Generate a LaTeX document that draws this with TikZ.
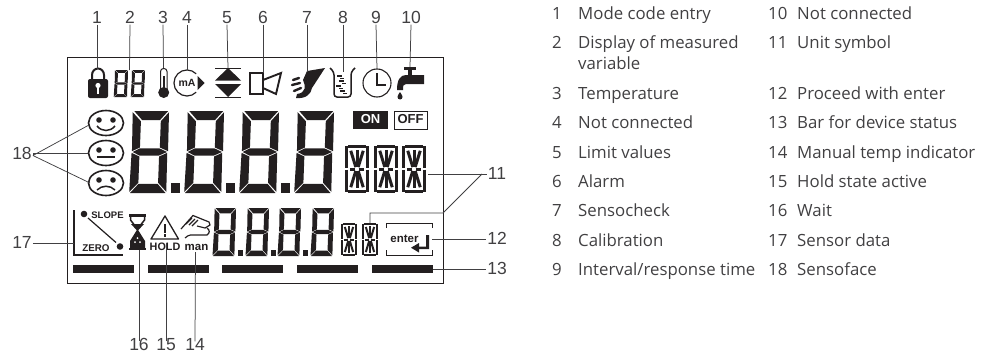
\documentclass[tikz,border=0pt]{standalone}
\usepackage{fontspec}
\setmainfont{Liberation Sans}
\newfontfamily\legendfont{Open Sans}
\usetikzlibrary{arrows}
\definecolor{myInk}{RGB}{35,31,32}
\definecolor{myText}{RGB}{65,64,66}
\tikzset{
	lcddigit/.pic={
		\fill[myInk] (.11,0) -- (.98,0) -- (.77,.11) -- (.31,.11) -- cycle;
		\fill[myInk] (.07,.015) -- (.28,.125) -- (.255,.445) -- (.05,.49) -- cycle;
		\fill[myInk] (1,.015) -- (.79,.125) -- (.765,.445) -- (.975,.49) -- cycle;
		\fill[myInk] (.07,.5) -- (.25,.457) -- (.76,.457) -- (.95,.5) -- (.74,.543) -- (.24,.543) -- cycle;
		\fill[myInk] (.04,.51) -- (.24,.555) -- (.215,.875) -- (-.02,.985) -- cycle;
		\fill[myInk] (.955,.51) -- (.745,.555) -- (.72,.875) -- (.93,.985) -- cycle;
		\fill[myInk] (0,1) -- (.215,.89) -- (.71,.89) -- (.91,1) -- cycle;
	},
	lcdalpha/.pic={
		\draw[myInk] (.13,.04) -- (.87,.04);
		\draw[myInk] (.13,.96) -- (.87,.96);
		\foreach \x in {.08,.92}{
			\draw[myInk] (\x,.03) -- (\x,.485);
			\draw[myInk] (\x,.515) -- (\x,.97);
		}
		\draw[myInk] (.5,.1) -- (.5,.45);
		\draw[myInk] (.5,.55) -- (.5,.9);
		\draw[myInk] (.2,.5) -- (.43,.5);
		\draw[myInk] (.57,.5) -- (.8,.5);
		\draw[myInk] (.24,.12) -- (.45,.46);
		\draw[myInk] (.76,.12) -- (.55,.46);
		\draw[myInk] (.24,.88) -- (.45,.54);
		\draw[myInk] (.76,.88) -- (.55,.54);
	},
	smiley/.pic={
		\draw[myInk,line width=1.6pt] (0,0) ellipse (17.5 and 12.5);
		\fill[myInk] (-7,-3) circle (2.8);
		\fill[myInk] (7,-3) circle (2.8);
	},
	leader/.style={draw=myText,line width=.75pt},
	callout/.style={font=\fontsize{17.5}{20}\selectfont,text=myText,inner sep=1pt,yshift=-2.5pt},
	legend/.style={font=\legendfont\fontsize{16.8}{20}\selectfont,text=myText,anchor=west,inner sep=0pt,yshift=-3pt},
	bar/.style={fill=myInk},
}
\begin{document}
\begin{tikzpicture}[x=1pt,y=-1pt,%
	every node/.style={
		% same baseline for all the texts
		text height=1.5ex,
		text depth=0pt,
	},
	]
	\useasboundingbox (0,0) rectangle (995,356);

	% draw display frame
	\draw[myInk,line width=.8pt] (67,57) rectangle (443,283);

	% big digits and their points
	\foreach \x in {130,185,240,295}{
		\pic[xscale=39,yscale=82] at (\x,111) {lcddigit};
	}
	\foreach \x in {175,230,285}{
		\fill[myInk] (\x-4.5,183) rectangle (\x+4.5,192.5);
	}

	% second row of digits
	\foreach \x in {213,246,278,311}{
		\pic[xscale=23,yscale=48] at (\x,208) {lcddigit};
	}
	\foreach \x in {240,273,305}{
		\fill[myInk] (\x-2.5,250) rectangle (\x+2.5,255.5);
	}

	% small digits beside the lock
	\foreach \x in {114,131}{
		\pic[xscale=14,yscale=27] at (\x,70) {lcddigit};
	}

	% unit symbols
	\foreach \x in {345,374,402}{
		\pic[xscale=24,yscale=48,line width=3pt] at (\x,145) {lcdalpha};
	}
	\foreach \x in {341,362}{
		\pic[xscale=16,yscale=33,line width=2pt] at (\x,223) {lcdalpha};
	}

	% lock
	\draw[myInk,line width=2pt] (92,80) -- (92,75) arc (180:360:6 and 6.5) -- (104,80);
	\fill[myInk,rounded corners=2pt] (88,79) rectangle (108,98);
	\fill[white] (98,85.5) circle (2.6);
	\fill[white] (97,86) rectangle (99,94);

	% thermometer
	\draw[myInk,line width=1pt,rounded corners=3pt] (160.5,90) -- (160.5,68.5) -- (167,68.5) -- (167,90);
	\fill[myInk] (163.7,92.5) circle (5.5);
	\fill[myInk] (162.5,76) rectangle (165,90);

	% current output
	\draw[myInk,line width=1.2pt] (196.2,73.8) arc (-45:-315:13);
	\fill[myInk] (197.5,76) -- (204.5,83) -- (197.5,90) -- cycle;
	\node[font=\bfseries\fontsize{10.5}{12}\selectfont,text=myInk,inner sep=0pt] (unitmA) at (187,83) {mA};

	% limit values
	\draw[myInk,line width=.9pt] (215,68) -- (241,68);
	\draw[myInk,line width=.9pt] (215,97) -- (241,97);
	\fill[myInk] (228,68) -- (241,80.5) -- (215,80.5) -- cycle;
	\fill[myInk] (228,97) -- (241,84) -- (215,84) -- cycle;

	% alarm
	\draw[myInk,line width=1.9pt] (250,73) rectangle (263,94);
	\draw[myInk,line width=1.9pt] (263,80) -- (281,73) -- (276,94) -- (263,88);

	% sensocheck
	\fill[myInk] (325,68) -- (307,71) -- (303,80) .. controls (306,86) and (306,93) .. (297,94) -- (296,98) .. controls (306,99) and (311,94) .. (312,88) -- cycle;
	\draw[myInk,line width=2.4pt,line cap=round] (292,85) -- (300,83);
	\draw[myInk,line width=2.4pt,line cap=round] (294,91) -- (301,88);
	\draw[myInk,line width=2.4pt,line cap=round] (293,80) -- (299,78);

	% calibration beaker
	\draw[myInk,line width=1.5pt,rounded corners=3pt] (330,68) -- (334,72) -- (334,97) -- (351,97) -- (351,72) -- (355,68);
	\foreach \y/\xa in {76/337,81/339,86/336,91/340}{
		\draw[myInk,line width=1.3pt] (\xa,\y) -- (\xa+5,\y);
		\draw[myInk,line width=1.3pt] (\xa+3,\y+2.5) -- (\xa+7,\y+2.5);
	}

	% clock
	\draw[myInk,line width=1.1pt] (377,83) circle (14);
	\draw[myInk,line width=1.1pt] (377,73) -- (377,85) -- (386,85);

	% tap
	\fill[myInk] (404,67) rectangle (416,70);
	\fill[myInk] (408,70) rectangle (412,75);
	\fill[myInk] (424,75) -- (424,84) -- (406,84) .. controls (403,84) and (403,86) .. (403,90) -- (397,90) .. controls (397,80) and (400,75) .. (406,75) -- cycle;
	\fill[myInk] (400,92) .. controls (398,95) and (397.5,96) .. (397.5,97) arc (180:0:2.5) .. controls (402.5,96) and (402,95) .. (400,92) -- cycle;

	% on off
	\fill[myInk] (353,111) rectangle (388,129);
	\node[font=\bfseries\fontsize{13}{15}\selectfont,text=white,inner sep=0pt] (labelOn) at (370.5,120) {ON};
	\draw[myInk,line width=1pt] (394,111.5) rectangle (427,129);
	\node[font=\bfseries\fontsize{13}{15}\selectfont,text=myInk,inner sep=0pt] (labelOff) at (410.5,120) {OFF};

	% sensoface
	\pic at (106,123) {smiley};
	\pic at (106,153) {smiley};
	\pic at (106,183) {smiley};
	\draw[myInk,line width=1.5pt] (97,126) .. controls (102,132) and (110,132) .. (115,126);
	\draw[myInk,line width=1.5pt] (97,157) -- (115,157);
	\draw[myInk,line width=1.5pt] (97,190) .. controls (102,185) and (110,185) .. (115,190);

	% sensor data
	\draw[myInk,line width=1.5pt] (74,210) -- (74,255) -- (123,255);
	\fill[myInk] (84,214) circle (3.3);
	\fill[myInk] (120,246.5) circle (3.3);
	\draw[myInk,line width=1.2pt] (88,218) -- (116,242.5);
	\node[font=\bfseries\fontsize{9.5}{11}\selectfont,text=myInk,inner sep=0pt] (labelSlope) at (107.5,215) {SLOPE};
	\node[font=\bfseries\fontsize{9.8}{11}\selectfont,text=myInk,inner sep=0pt] (labelZero) at (96,247.5) {ZERO};

	% hourglass
	\fill[myInk] (129,214) rectangle (146,216.5);
	\fill[myInk] (129,247.5) rectangle (146,250);
	\draw[myInk,line width=1.5pt] (130.5,216) -- (130.5,220) -- (137.5,229) -- (144.5,220) -- (144.5,216);
	\fill[myInk] (131,224) -- (144,224) -- (137.5,231) -- cycle;
	\fill[myInk] (137.5,229) -- (145,241) -- (145,248) -- (130,248) -- (130,241) -- cycle;
	\fill[white] (137.5,238) circle (1);
	\fill[white] (135,242) circle (1);
	\fill[white] (140,242) circle (1);

	% hold triangle
	\draw[myInk,line width=1.3pt,line join=round] (165,216) -- (178.5,239) -- (151,239) -- cycle;
	\fill[myInk] (164.2,224) rectangle (166,232.5);
	\fill[myInk] (164.2,234) rectangle (166,236.5);
	\node[font=\bfseries\fontsize{10.8}{12}\selectfont,text=myInk,inner sep=0pt] (labelHold) at (165,247) {HOLD};

	% hand
	\draw[myInk,line width=1.2pt] (181,229) -- (193,215.5) -- (209,222) -- (210,225) -- (205,228) -- (197,226);
	\draw[myInk,line width=1.2pt] (186,224) -- (192,218);
	\draw[myInk,line width=1.2pt] (189,225) -- (195,219);
	\draw[myInk,line width=1.2pt] (192,226) -- (198,220);
	\draw[myInk,line width=1.2pt] (185,238) .. controls (189,234) and (192,235) .. (197,235) -- (207,235) .. controls (210,233) and (210,230) .. (207,228);
	\node[font=\bfseries\fontsize{11.5}{13}\selectfont,text=myInk,inner sep=0pt] (labelMan) at (196.5,247) {man};

	% enter key
	\draw[myInk,line width=.9pt] (386.5,228) -- (386.5,223.5) -- (432,223.5) -- (432,228);
	\draw[myInk,line width=.9pt] (386.5,250) -- (386.5,255.5) -- (432,255.5) -- (432,250);
	\node[font=\bfseries\fontsize{11.5}{13}\selectfont,text=myInk,inner sep=0pt] (labelEnter) at (404.5,239) {enter};
	\fill[myInk] (426,235) -- (429,235) -- (429,249) -- (416,249) -- (416,246.5) -- (426,246.5) -- cycle;
	\fill[myInk] (411,247.7) -- (419,243) -- (419,252.5) -- cycle;

	% status bars
	\foreach \x in {73,148,222,297,372}{
		\fill[bar] (\x,265) rectangle (\x+61,273);
	}

	% connector ends
	\coordinate (end1) at (97,69);
	\coordinate (end2) at (129.5,70);
	\coordinate (end3) at (163.5,68);
	\coordinate (end4) at (187,70);
	\coordinate (end5) at (228,68);
	\coordinate (end6) at (263,73);
	\coordinate (end7) at (307,72);
	\coordinate (end8) at (343,72);
	\coordinate (end9) at (377,69);
	\coordinate (end10) at (410,67);
	\coordinate (end11a) at (428,174);
	\coordinate (end11b) at (370,223);
	\coordinate (bend11b) at (370,213);
	\coordinate (bend11c) at (443,213);
	\coordinate (end12) at (432,239);
	\coordinate (end13) at (433,269);
	\coordinate (end14) at (195.5,252);
	\coordinate (end15) at (166,243);
	\coordinate (end16) at (139,250);
	\coordinate (end17) at (74,243);
	\coordinate (end18a) at (89,125);
	\coordinate (end18b) at (88,153);
	\coordinate (end18c) at (90,183);
	\coordinate (join11) at (482,174);

	% place callout numbers
	\node[callout] (n1) at (97,17) {1};
	\node[callout] (n2) at (130,17) {2};
	\node[callout] (n3) at (163,17) {3};
	\node[callout] (n4) at (187,17) {4};
	\node[callout] (n5) at (227,17) {5};
	\node[callout] (n6) at (263,17) {6};
	\node[callout] (n7) at (307,17) {7};
	\node[callout] (n8) at (343,17) {8};
	\node[callout] (n9) at (376,17) {9};
	\node[callout] (n10) at (411,17) {10};
	\node[callout] (n11) at (497,173) {11};
	\node[callout] (n12) at (497,238) {12};
	\node[callout] (n13) at (497,268) {13};
	\node[callout] (n14) at (195,344) {14};
	\node[callout] (n15) at (166,344) {15};
	\node[callout] (n16) at (139,344) {16};
	\node[callout] (n17) at (22,242) {17};
	\node[callout] (n18) at (22,153) {18};

	% draw leaders
	\foreach \i in {1,...,10}{
		\draw[leader] (n\i.south) -- (end\i);
	}
	\draw[leader] (end11a) -- (join11 -| n11.west);
	\draw[leader] (end11b) -- (bend11b) -- (bend11c) -- (join11);
	\draw[leader] (end12) -- (end12 -| n12.west);
	\draw[leader] (end13) -- (end13 -| n13.west);
	\foreach \i in {14,15,16}{
		\draw[leader] (n\i.north) -- (end\i);
	}
	\draw[leader] (end17 -| n17.east) -- (end17);
	\draw[leader] (n18.east) -- (end18a);
	\draw[leader] (n18.east) -- (end18b -| n18.east) -- (end18b);
	\draw[leader] (n18.east) -- (end18c);

	% left column of the list
	\node[legend] (num1) at (552,13) {1};
	\node[legend] (txt1) at (578,13) {Mode code entry};
	\node[legend] (num2) at (552,42) {2};
	\node[legend] (txt2) at (578,42) {Display of measured};
	\node[legend] (txt2b) at (578,63) {variable};
	\node[legend] (num3) at (552,93) {3};
	\node[legend] (txt3) at (578,93) {Temperature};
	\node[legend] (num4) at (552,122) {4};
	\node[legend] (txt4) at (578,122) {Not connected};
	\node[legend] (num5) at (552,152) {5};
	\node[legend] (txt5) at (578,152) {Limit values};
	\node[legend] (num6) at (552,181) {6};
	\node[legend] (txt6) at (578,181) {Alarm};
	\node[legend] (num7) at (552,210) {7};
	\node[legend] (txt7) at (578,210) {Sensocheck};
	\node[legend] (num8) at (552,240) {8};
	\node[legend] (txt8) at (578,240) {Calibration};
	\node[legend] (num9) at (552,269) {9};
	\node[legend] (txt9) at (578,269) {Interval/response time};

	% right column of the list
	\node[legend] (num10) at (768,13) {10};
	\node[legend] (txt10) at (797,13) {Not connected};
	\node[legend] (num11) at (768,42) {11};
	\node[legend] (txt11) at (797,42) {Unit symbol};
	\node[legend] (num12) at (768,93) {12};
	\node[legend] (txt12) at (797,93) {Proceed with enter};
	\node[legend] (num13) at (768,122) {13};
	\node[legend] (txt13) at (797,122) {Bar for device status};
	\node[legend] (num14) at (768,152) {14};
	\node[legend] (txt14) at (797,152) {Manual temp indicator};
	\node[legend] (num15) at (768,181) {15};
	\node[legend] (txt15) at (797,181) {Hold state active};
	\node[legend] (num16) at (768,210) {16};
	\node[legend] (txt16) at (797,210) {Wait};
	\node[legend] (num17) at (768,240) {17};
	\node[legend] (txt17) at (797,240) {Sensor data};
	\node[legend] (num18) at (768,269) {18};
	\node[legend] (txt18) at (797,269) {Sensoface};
\end{tikzpicture}
\end{document}
